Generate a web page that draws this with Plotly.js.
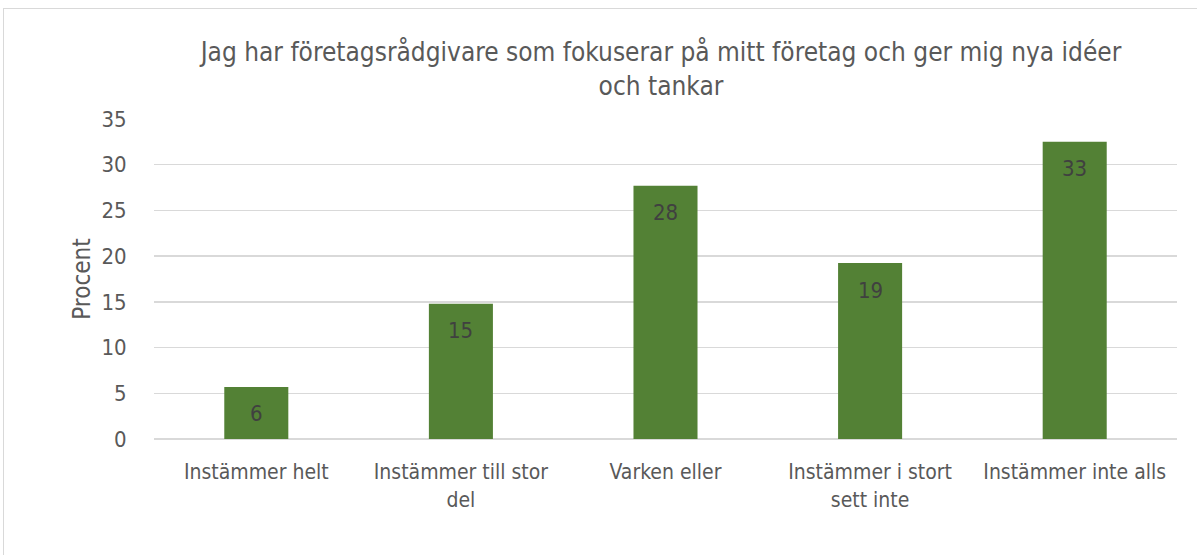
<!DOCTYPE html>
<html>
<head>
<meta charset="utf-8">
<script src="https://cdn.plot.ly/plotly-3.0.1.min.js"></script>
<style>
  html, body { margin: 0; padding: 0; background: #fff; overflow: hidden; }
  #wrap { position: relative; width: 1197px; height: 555px; }
  #chart { position: absolute; left: 0; top: 0; width: 1197px; height: 555px; }
  #frame { position: absolute; left: 3px; top: 8px; width: 1300px; height: 600px;
           border: 1px solid #d9d9d9; pointer-events: none; }
</style>
</head>
<body>
<div id="wrap">
  <div id="chart"></div>
  <div id="frame"></div>
</div>
<script>
const categories = [
  "Instämmer helt",
  "Instämmer till stor<br>del",
  "Varken eller",
  "Instämmer i stort<br>sett inte",
  "Instämmer inte alls"
];
const values = [5.7, 14.8, 27.7, 19.25, 32.5];
const labels = values.map(v => String(Math.round(v)));
const yTicks = [0, 5, 10, 15, 20, 25, 30, 35];

const FONT = '"Liberation Sans Narrow", "DejaVu Sans Condensed", "Roboto", sans-serif';

const trace = {
  type: 'bar',
  x: categories,
  y: values,
  marker: { color: '#538135' },
  hoverinfo: 'none',
  showlegend: false
};

const annotations = categories.map((c, i) => ({
  x: c, y: values[i], xref: 'x', yref: 'y',
  text: labels[i], showarrow: false,
  yanchor: 'middle', yshift: -27,
  font: { family: FONT, size: 22, color: '#404040' }
}));

const layout = {
  width: 1197, height: 555,
  margin: { l: 154, r: 20, t: 119, b: 116 },
  paper_bgcolor: 'rgba(0,0,0,0)',
  plot_bgcolor: '#fff',
  bargap: 0.687,
  font: { family: FONT, color: '#595959' },
  title: {
    text: 'Jag har företagsrådgivare som fokuserar på mitt företag och ger mig nya idéer<br>och tankar',
    font: { family: FONT, size: 26, color: '#595959' },
    xref: 'container', x: 661 / 1197, xanchor: 'center',
    yref: 'container', y: 1 - 61 / 555, yanchor: 'middle'
  },
  xaxis: {
    type: 'category',
    tickangle: 0,
    tickfont: { family: FONT, size: 21, color: '#595959' },
    ticks: 'outside', ticklen: 14, tickcolor: 'rgba(0,0,0,0)',
    showline: false, showgrid: false, zeroline: false,
    fixedrange: true
  },
  yaxis: {
    range: [0, 35],
    tickvals: yTicks,
    ticktext: yTicks.map(String),
    tickfont: { family: FONT, size: 22, color: '#595959' },
    ticks: 'outside', ticklen: 22, tickcolor: 'rgba(0,0,0,0)',
    showgrid: true, gridcolor: '#d9d9d9', gridwidth: 1.5,
    zeroline: true, zerolinecolor: '#d9d9d9', zerolinewidth: 1.5,
    showline: false,
    title: { text: 'Procent', font: { family: FONT, size: 24, color: '#595959' }, standoff: 4 },
    fixedrange: true
  },
  annotations: annotations
};

Plotly.newPlot('chart', [trace], layout, { staticPlot: true, displayModeBar: false });
</script>
</body>
</html>
